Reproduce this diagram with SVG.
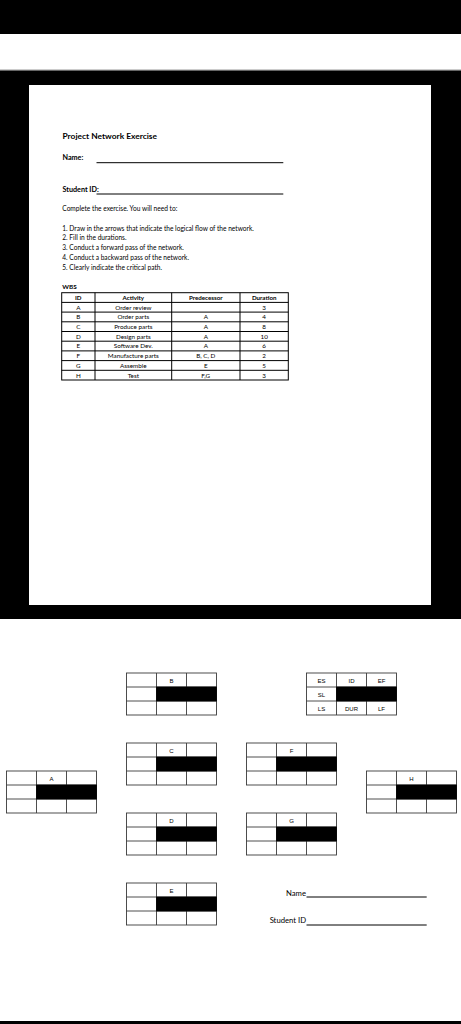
<svg xmlns="http://www.w3.org/2000/svg" xmlns:xlink="http://www.w3.org/1999/xlink" width="461" height="1024" viewBox="0 0 461 1024">
<style>
text{font-family:Lato,"Liberation Sans",sans-serif;fill:#000}
.t{font-size:8.4px;font-weight:bold}
.h{font-size:7.2px;font-weight:bold}
.p{font-size:6.6px}
.tb{font-size:6.3px;text-anchor:middle}
.tbh{font-size:6.2px;text-anchor:middle;font-weight:bold}
.ln{stroke:#000;stroke-width:1;fill:none}
.grid{stroke:#3a3a3a;stroke-width:0.9;fill:none}
.nl{font-size:6px;text-anchor:middle;font-family:"Liberation Sans",Arial,sans-serif}
.f{font-size:7.7px;text-anchor:end}
</style>
<defs>
<g id="nodebox">
<rect x="0" y="0" width="90" height="42" fill="#fff"/>
<rect class="grid" x="0" y="0" width="90" height="42"/>
<path class="grid" d="M30 0V42M60 0V14M60 28V42M0 14H90M0 28H90"/>
<rect x="29.6" y="13.6" width="60.8" height="14.8" fill="#000"/>
</g>
</defs>
<rect x="0" y="0" width="461" height="1024" fill="#fff"/>
<rect x="0" y="0" width="461" height="34" fill="#000"/>
<line x1="0" y1="70" x2="461" y2="70" stroke="#999" stroke-width="1"/>
<rect x="0" y="70.5" width="461" height="548.5" fill="#000"/>
<rect x="0" y="1021" width="461" height="3" fill="#000"/>
<g id="paper">
<rect x="29" y="85" width="402" height="520" fill="#fff"/>
<text class="t" x="62.5" y="139.3">Project Network Exercise</text>
<text class="h" x="62.5" y="160">Name:</text>
<line class="ln" x1="96.5" y1="162.7" x2="283.3" y2="162.7"/>
<text class="h" x="62.5" y="191.7">Student ID:</text>
<line class="ln" x1="96.5" y1="194" x2="283.3" y2="194"/>
<text class="p" x="62.3" y="210.7">Complete the exercise. You will need to:</text>
<text class="p" x="62.3" y="231">1. Draw in the arrows that indicate the logical flow of the network.</text>
<text class="p" x="62.3" y="240">2. Fill in the durations.</text>
<text class="p" x="62.3" y="250">3. Conduct a forward pass of the network.</text>
<text class="p" x="62.3" y="260">4. Conduct a backward pass of the network.</text>
<text class="p" x="62.3" y="270">5. Clearly indicate the critical path.</text>
<text class="h" x="62.3" y="289.3" style="font-size:6.4px">WBS</text>
<g id="wbs-table">
<rect class="ln" x="61.7" y="292.7" width="226.6" height="87.3" stroke-width="0.8"/>
<path class="ln" stroke-width="0.6" d="M95 292.7V380M171.7 292.7V380M240 292.7V380M61.7 302.4H288.3M61.7 312.1H288.3M61.7 321.8H288.3M61.7 331.5H288.3M61.7 341.2H288.3M61.7 350.9H288.3M61.7 360.6H288.3M61.7 370.3H288.3"/>
<text class="tbh" x="78.3" y="300">ID</text>
<text class="tbh" x="133.3" y="300">Activity</text>
<text class="tbh" x="205.8" y="300">Predecessor</text>
<text class="tbh" x="264.2" y="300">Duration</text>
<text class="tb" x="78.3" y="309.6">A</text><text class="tb" x="133.3" y="309.6">Order review</text><text class="tb" x="264.2" y="309.6">3</text>
<text class="tb" x="78.3" y="319.3">B</text><text class="tb" x="133.3" y="319.3">Order parts</text><text class="tb" x="205.8" y="319.3">A</text><text class="tb" x="264.2" y="319.3">4</text>
<text class="tb" x="78.3" y="329">C</text><text class="tb" x="133.3" y="329">Produce parts</text><text class="tb" x="205.8" y="329">A</text><text class="tb" x="264.2" y="329">8</text>
<text class="tb" x="78.3" y="338.7">D</text><text class="tb" x="133.3" y="338.7">Design parts</text><text class="tb" x="205.8" y="338.7">A</text><text class="tb" x="264.2" y="338.7">10</text>
<text class="tb" x="78.3" y="348.4">E</text><text class="tb" x="133.3" y="348.4">Software Dev.</text><text class="tb" x="205.8" y="348.4">A</text><text class="tb" x="264.2" y="348.4">6</text>
<text class="tb" x="78.3" y="358.1">F</text><text class="tb" x="133.3" y="358.1">Manufacture parts</text><text class="tb" x="205.8" y="358.1">B, C, D</text><text class="tb" x="264.2" y="358.1">2</text>
<text class="tb" x="78.3" y="367.8">G</text><text class="tb" x="133.3" y="367.8">Assemble</text><text class="tb" x="205.8" y="367.8">E</text><text class="tb" x="264.2" y="367.8">5</text>
<text class="tb" x="78.3" y="377.5">H</text><text class="tb" x="133.3" y="377.5">Test</text><text class="tb" x="205.8" y="377.5">F,G</text><text class="tb" x="264.2" y="377.5">3</text>
</g>
</g>
<g id="connectors"></g>
<g id="node-B" transform="translate(126.5,673)"><use xlink:href="#nodebox"/><text class="nl" x="45" y="10">B</text></g>
<g id="legend" transform="translate(306.5,673)"><use xlink:href="#nodebox"/>
<text class="nl" x="15" y="10">ES</text><text class="nl" x="45" y="10">ID</text><text class="nl" x="75" y="10">EF</text>
<text class="nl" x="15" y="24">SL</text>
<text class="nl" x="15" y="38">LS</text><text class="nl" x="45" y="38">DUR</text><text class="nl" x="75" y="38">LF</text></g>
<g id="node-C" transform="translate(126.5,743)"><use xlink:href="#nodebox"/><text class="nl" x="45" y="10">C</text></g>
<g id="node-F" transform="translate(246.5,743)"><use xlink:href="#nodebox"/><text class="nl" x="45" y="10">F</text></g>
<g id="node-A" transform="translate(6.5,771)"><use xlink:href="#nodebox"/><text class="nl" x="45" y="10">A</text></g>
<g id="node-H" transform="translate(366.5,771)"><use xlink:href="#nodebox"/><text class="nl" x="45" y="10">H</text></g>
<g id="node-D" transform="translate(126.5,813)"><use xlink:href="#nodebox"/><text class="nl" x="45" y="10">D</text></g>
<g id="node-G" transform="translate(246.5,813)"><use xlink:href="#nodebox"/><text class="nl" x="45" y="10">G</text></g>
<g id="node-E" transform="translate(126.5,883)"><use xlink:href="#nodebox"/><text class="nl" x="45" y="10">E</text></g>
<g id="form">
<text class="f" x="306" y="896">Name</text>
<line class="ln" x1="306.5" y1="897" x2="426.7" y2="897"/>
<text class="f" x="306" y="923">Student ID</text>
<line class="ln" x1="306.5" y1="925" x2="426.7" y2="925"/>
</g>
</svg>
